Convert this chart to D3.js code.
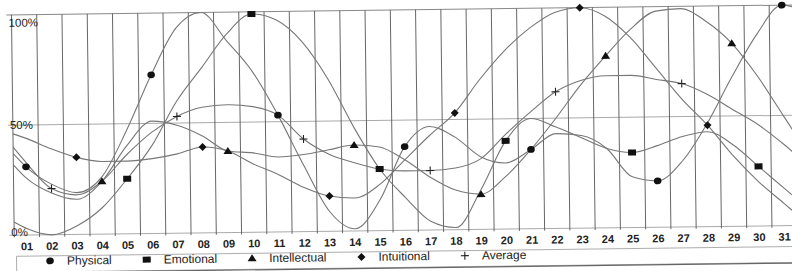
<!DOCTYPE HTML>
<html>
<head>
<meta charset="utf-8">
<script src="https://cdn.jsdelivr.net/npm/d3@7"></script>
<style>
  body { margin: 0; background: #fff; overflow: hidden; }
  text { font-family: "Liberation Sans", Arial, sans-serif; }
</style>
</head>
<body>
<svg width="792" height="271"></svg>
<script>
// day labels and values (percent)
var days = ["01","02","03","04","05","06","07","08","09","10","11","12","13","14","15","16",
            "17","18","19","20","21","22","23","24","25","26","27","28","29","30","31"];
var yTicks = [0, 50, 100];

// curves run from the left edge of the plot (day 0.5) to its right edge (day 31.5)
var lineDays = [0.5,1,2,3,4,5,6,7,8,9,10,11,12,13,14,15,16,17,18,19,20,21,22,23,24,25,26,27,28,29,30,31,31.5];

var physical     = [37,31,23,19,26,47,72,93,100,87,73,53,30,9,1,14,38,47,42,33,30,36,43,42,36,23,21,30,47,68,87,100,99];
var emotional    = [6,3,0,4,12,25,40,60,75,90,99,96,86,69,47,28,15,4,1,18,40,50,46,41,36,34,37,41,43,37,27,17,12];
var intellectual = [32,26,19,16,24,40,51,49,44,37,36,34,35,37,39,38,32,24,18,16,24,36,50,65,78,90,98,99,93,83,68,50,41];
var intuitional  = [46,44,39,35,33,33,34,36,39,37,31,26,20,16,15,21,32,43,53,68,81,91,98,100,96,86,72,58,46,32,20,10,5];
var average      = [40,33,21,18,24,36,46,53,57,58,57,53,42,35,31,28,27,27,28,32,43,53,62,67,69,69,67,65,60,53,46,37,32];

var seriesNames = ["Physical", "Emotional", "Intellectual", "Intuitional", "Average"];
var seriesData  = [physical, emotional, intellectual, intuitional, average];
var seriesMark  = ["circle", "square", "triangle", "diamond", "plus"];
var markOffset  = [0, 4, 3, 2, 1];   // marker every 5th day

var svg = d3.select("svg");
var g = svg.append("g").attr("transform", "rotate(-0.72 396 135)");

var x = d3.scaleBand().domain(days).range([13, 796]).padding(0);
var xDay = d3.scaleLinear().domain([0.5, 31.5]).range([13, 796]);
var y = d3.scaleLinear().domain([0, 100]).range([230.5, 10]);

// horizontal reference lines
g.selectAll(".hline")
 .data(yTicks)
 .enter().append("line")
 .attr("x1", 8).attr("x2", 800)
 .attr("y1", function(d) { return y(d); })
 .attr("y2", function(d) { return y(d); })
 .attr("stroke", function(d) { return d == 100 ? "#888" : "#aaa"; })
 .attr("stroke-width", 1);

// vertical day lines at band edges
g.selectAll(".vline")
 .data(days)
 .enter().append("line")
 .attr("x1", function(d) { return x(d); })
 .attr("x2", function(d) { return x(d); })
 .attr("y1", y(100)).attr("y2", y(0) + 2)
 .attr("stroke", "#555")
 .attr("stroke-width", 0.9);

// y labels
g.selectAll(".ylab")
 .data(yTicks)
 .enter().append("text")
 .attr("x", 10)
 .attr("y", function(d) { return y(d) + (d == 100 ? 12 : d == 50 ? 4 : 1); })
 .attr("font-size", "11.5px")
 .attr("fill", "#222")
 .text(function(d) { return d + "%"; });

var line = d3.line()
  .x(function(d, i) { return xDay(lineDays[i]); })
  .y(function(d) { return y(d); })
  .curve(d3.curveMonotoneX);

seriesData.forEach(function(s) {
  g.append("path")
   .attr("d", line(s))
   .attr("fill", "none")
   .attr("stroke", "#777")
   .attr("stroke-width", 1.1);
});

function drawMark(sel, type, cx, cy) {
  if (type == "circle") {
    sel.append("ellipse").attr("cx", cx).attr("cy", cy).attr("rx", 3.8).attr("ry", 3.4).attr("fill", "#111");
  } else if (type == "square") {
    sel.append("rect").attr("x", cx - 4).attr("y", cy - 3).attr("width", 8).attr("height", 6).attr("fill", "#111");
  } else if (type == "triangle") {
    sel.append("path").attr("d", "M" + cx + "," + (cy - 4) + "L" + (cx + 4.5) + "," + (cy + 3) + "L" + (cx - 4.5) + "," + (cy + 3) + "Z").attr("fill", "#111");
  } else if (type == "diamond") {
    sel.append("path").attr("d", "M" + cx + "," + (cy - 4) + "L" + (cx + 4) + "," + cy + "L" + cx + "," + (cy + 4) + "L" + (cx - 4) + "," + cy + "Z").attr("fill", "#111");
  } else {
    sel.append("path").attr("d", "M" + (cx - 4) + "," + cy + "H" + (cx + 4) + "M" + cx + "," + (cy - 4) + "V" + (cy + 4))
       .attr("stroke", "#222").attr("stroke-width", 1.1).attr("fill", "none");
  }
}

seriesData.forEach(function(s, k) {
  s.forEach(function(v, i) {
    var day = lineDays[i];
    if (day % 1 == 0 && (day - 1) % 5 == markOffset[k]) {
      drawMark(g, seriesMark[k], xDay(day), y(v));
    }
  });
});

// day labels
g.selectAll(".day")
 .data(days)
 .enter().append("text")
 .attr("x", function(d) { return x(d) + x.bandwidth() / 2; })
 .attr("y", 245.5)
 .attr("text-anchor", "middle")
 .attr("font-size", "11px")
 .attr("font-weight", "bold")
 .attr("fill", "#222")
 .text(function(d) { return d; });

// legend box
g.append("rect")
 .attr("x", 15).attr("y", 251.5)
 .attr("width", 800).attr("height", 16)
 .attr("fill", "none").attr("stroke", "#999").attr("stroke-width", 0.8);
g.append("line")
 .attr("x1", 15).attr("x2", 815).attr("y1", 268).attr("y2", 268)
 .attr("stroke", "#666").attr("stroke-width", 1.2);

var cursor = 48.5;
seriesNames.forEach(function(name, k) {
  drawMark(g, seriesMark[k], cursor, 256.5);
  var t = g.append("text")
   .attr("x", cursor + 17).attr("y", 260.5)
   .attr("font-size", "12px")
   .attr("fill", "#222")
   .text(name);
  cursor = cursor + 17 + t.node().getComputedTextLength() + 35;
});
</script>
</body>
</html>
